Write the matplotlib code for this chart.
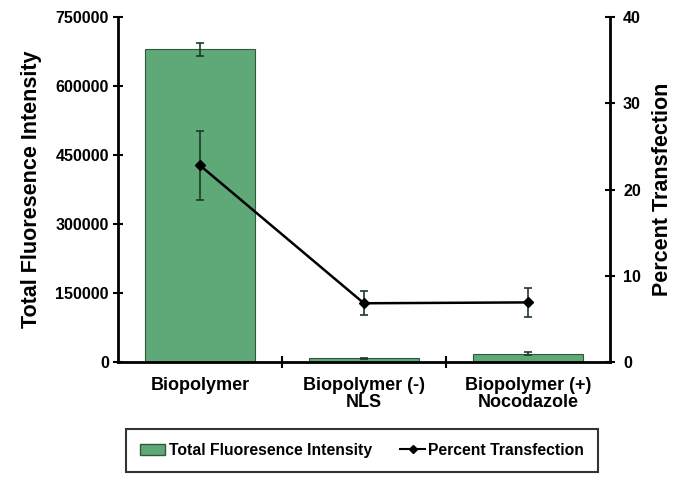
import matplotlib
matplotlib.use("Agg")
import matplotlib.pyplot as plt
import numpy as np
from matplotlib.lines import Line2D
from matplotlib.patches import Patch

categories = ["Biopolymer", "Biopolymer (-)\nNLS", "Biopolymer (+)\nNocodazole"]
fluorescence = [680000, 8000, 18000]
fluorescence_err = [14000, 1500, 3500]
transfection = [22.8, 6.8, 6.9]
transfection_err = [4.0, 1.4, 1.7]

plt.rcParams['font.family'] = ['Liberation Sans', 'DejaVu Sans']
plt.rcParams['font.weight'] = 'bold'

fig = plt.figure(figsize=(6.86, 4.91), dpi=100)
ax = fig.add_axes([0.172, 0.263, 0.717, 0.702])
ax2 = ax.twinx()

x = np.arange(len(categories))
ax.bar(x, fluorescence, width=0.67, color="#5fa878", edgecolor="#2f5a3a", linewidth=0.8,
       yerr=fluorescence_err, error_kw=dict(ecolor="#1e3a26", elinewidth=1.2, capsize=3, capthick=1.2))
ax.set_xlim(-0.5, 2.5)
ax.set_ylim(0, 750000)
ax.set_yticks([0, 150000, 300000, 450000, 600000, 750000])
ax.set_yticklabels(["0", "150000", "300000", "450000", "600000", "750000"])
ax.set_xticks([0.5, 1.5], minor=False)
ax.set_xticklabels(["", ""])
ax.set_xticks(x, minor=True)
ax.set_xticklabels(categories, minor=True, fontsize=13, fontweight='bold', linespacing=1.0)
ax.tick_params(axis='x', which='minor', length=0, pad=11)
ax.tick_params(axis='x', which='major', direction='inout', length=8, width=1.5)
ax.tick_params(axis='y', direction='inout', length=7, width=1.5, labelsize=11.5, pad=3)
ax.set_ylabel("Total Fluoresence Intensity", fontsize=15.5, fontweight='bold', labelpad=10)

ax2.errorbar(x, transfection, yerr=transfection_err, color="black", marker="D", markersize=5.5,
             linewidth=1.8, ecolor="#1e3a26", elinewidth=1.2, capsize=3, capthick=1.2)
ax2.set_ylim(0, 40)
ax2.set_yticks([0, 10, 20, 30, 40])
ax2.tick_params(axis='y', direction='inout', length=7, width=1.5, labelsize=11.5, pad=6)
ax2.set_ylabel("Percent Transfection", fontsize=15.5, fontweight='bold', labelpad=8)

for a in (ax, ax2):
    a.spines['top'].set_visible(False)
    for s in ('left', 'right', 'bottom'):
        a.spines[s].set_linewidth(2)
ax.spines['right'].set_visible(False)
ax2.spines['left'].set_visible(False)
ax2.spines['bottom'].set_visible(False)
for lab in ax.get_yticklabels() + ax2.get_yticklabels():
    lab.set_fontweight('bold')

handles = [Patch(facecolor="#5fa878", edgecolor="#2f5a3a", label="Total Fluoresence Intensity"),
           Line2D([0], [0], color="black", marker="D", markersize=4.5, linewidth=1.5, label="Percent Transfection")]
leg = fig.legend(handles=handles, loc='center', bbox_to_anchor=(0.528, 0.0825), ncol=2,
                 frameon=True, fancybox=False, edgecolor="black",
                 handlelength=1.6, handletextpad=0.2, columnspacing=1.8,
                 borderpad=0.9, borderaxespad=0, prop={'weight': 'bold', 'size': 11.3})
leg.get_frame().set_linewidth(1.5)

fig.savefig("out.png", dpi=100)
